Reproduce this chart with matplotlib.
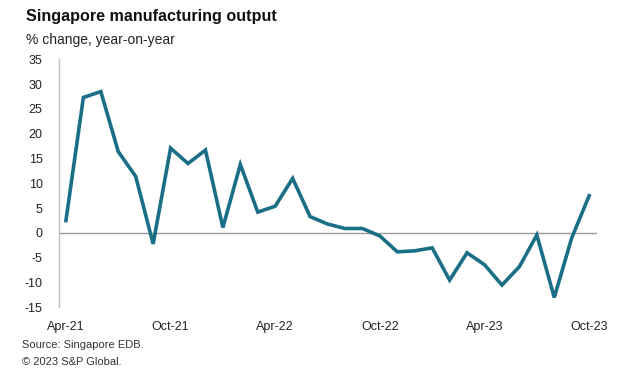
import matplotlib
matplotlib.use("Agg")
import matplotlib.pyplot as plt
import numpy as np

months = ["Apr-21","May-21","Jun-21","Jul-21","Aug-21","Sep-21","Oct-21","Nov-21","Dec-21",
          "Jan-22","Feb-22","Mar-22","Apr-22","May-22","Jun-22","Jul-22","Aug-22","Sep-22",
          "Oct-22","Nov-22","Dec-22","Jan-23","Feb-23","Mar-23","Apr-23","May-23","Jun-23",
          "Jul-23","Aug-23","Sep-23","Oct-23"]
values = [2.5, 27.3, 28.5, 16.4, 11.4, -2.2, 17.1, 14.0, 16.7,
          1.1, 13.8, 4.2, 5.4, 11.0, 3.3, 1.8, 0.9, 0.9,
          -0.6, -3.8, -3.6, -3.0, -9.5, -4.0, -6.4, -10.5, -6.8,
          -0.4, -13.0, -1.0, 7.5]
tick_labels = ["Apr-21", "Oct-21", "Apr-22", "Oct-22", "Apr-23", "Oct-23"]
yticks = list(range(-15, 40, 5))

plt.rcParams['font.family'] = ['Liberation Sans', 'DejaVu Sans']

fig = plt.figure(figsize=(6.35, 3.78), dpi=100)
ax = fig.add_axes([59.3/635, 1 - 307.4/378, (597 - 59.3)/635, (307.4 - 59.3)/378])

x = np.arange(len(values))
ax.plot(x, values, color="#1a6f87", lw=2.6, solid_joinstyle="miter", zorder=3)
ax.axhline(0, color="#9a9a9a", lw=1.0, zorder=2)

ax.set_xlim(-0.38, 30.45)
ax.set_ylim(-15, 35)
ax.set_yticks(yticks)
ax.set_yticklabels([str(v) for v in yticks])
tick_pos = [months.index(t) for t in tick_labels]
ax.set_xticks(tick_pos)
ax.set_xticklabels(tick_labels)
ax.tick_params(axis="both", length=0, labelsize=9, colors="#222222")
ax.tick_params(axis="y", pad=12)
ax.tick_params(axis="x", pad=10)

for s in ["top", "right", "bottom"]:
    ax.spines[s].set_visible(False)
ax.spines["left"].set_color("#c0c0c0")
ax.spines["left"].set_linewidth(1.0)

fig.text(26/635, 1 - 17/378, "Singapore manufacturing output", fontsize=11.6,
         fontweight="bold", va="center", ha="left", color="#111111")
fig.text(26/635, 1 - 40/378, "% change, year-on-year", fontsize=10,
         va="center", ha="left", color="#222222")
fig.text(22/635, 1 - 345/378, "Source: Singapore EDB.", fontsize=8,
         va="center", ha="left", color="#333333")
fig.text(22/635, 1 - 362/378, "\u00a9 2023 S&P Global.", fontsize=8,
         va="center", ha="left", color="#333333")

fig.savefig("out.png", dpi=100, facecolor="white")
